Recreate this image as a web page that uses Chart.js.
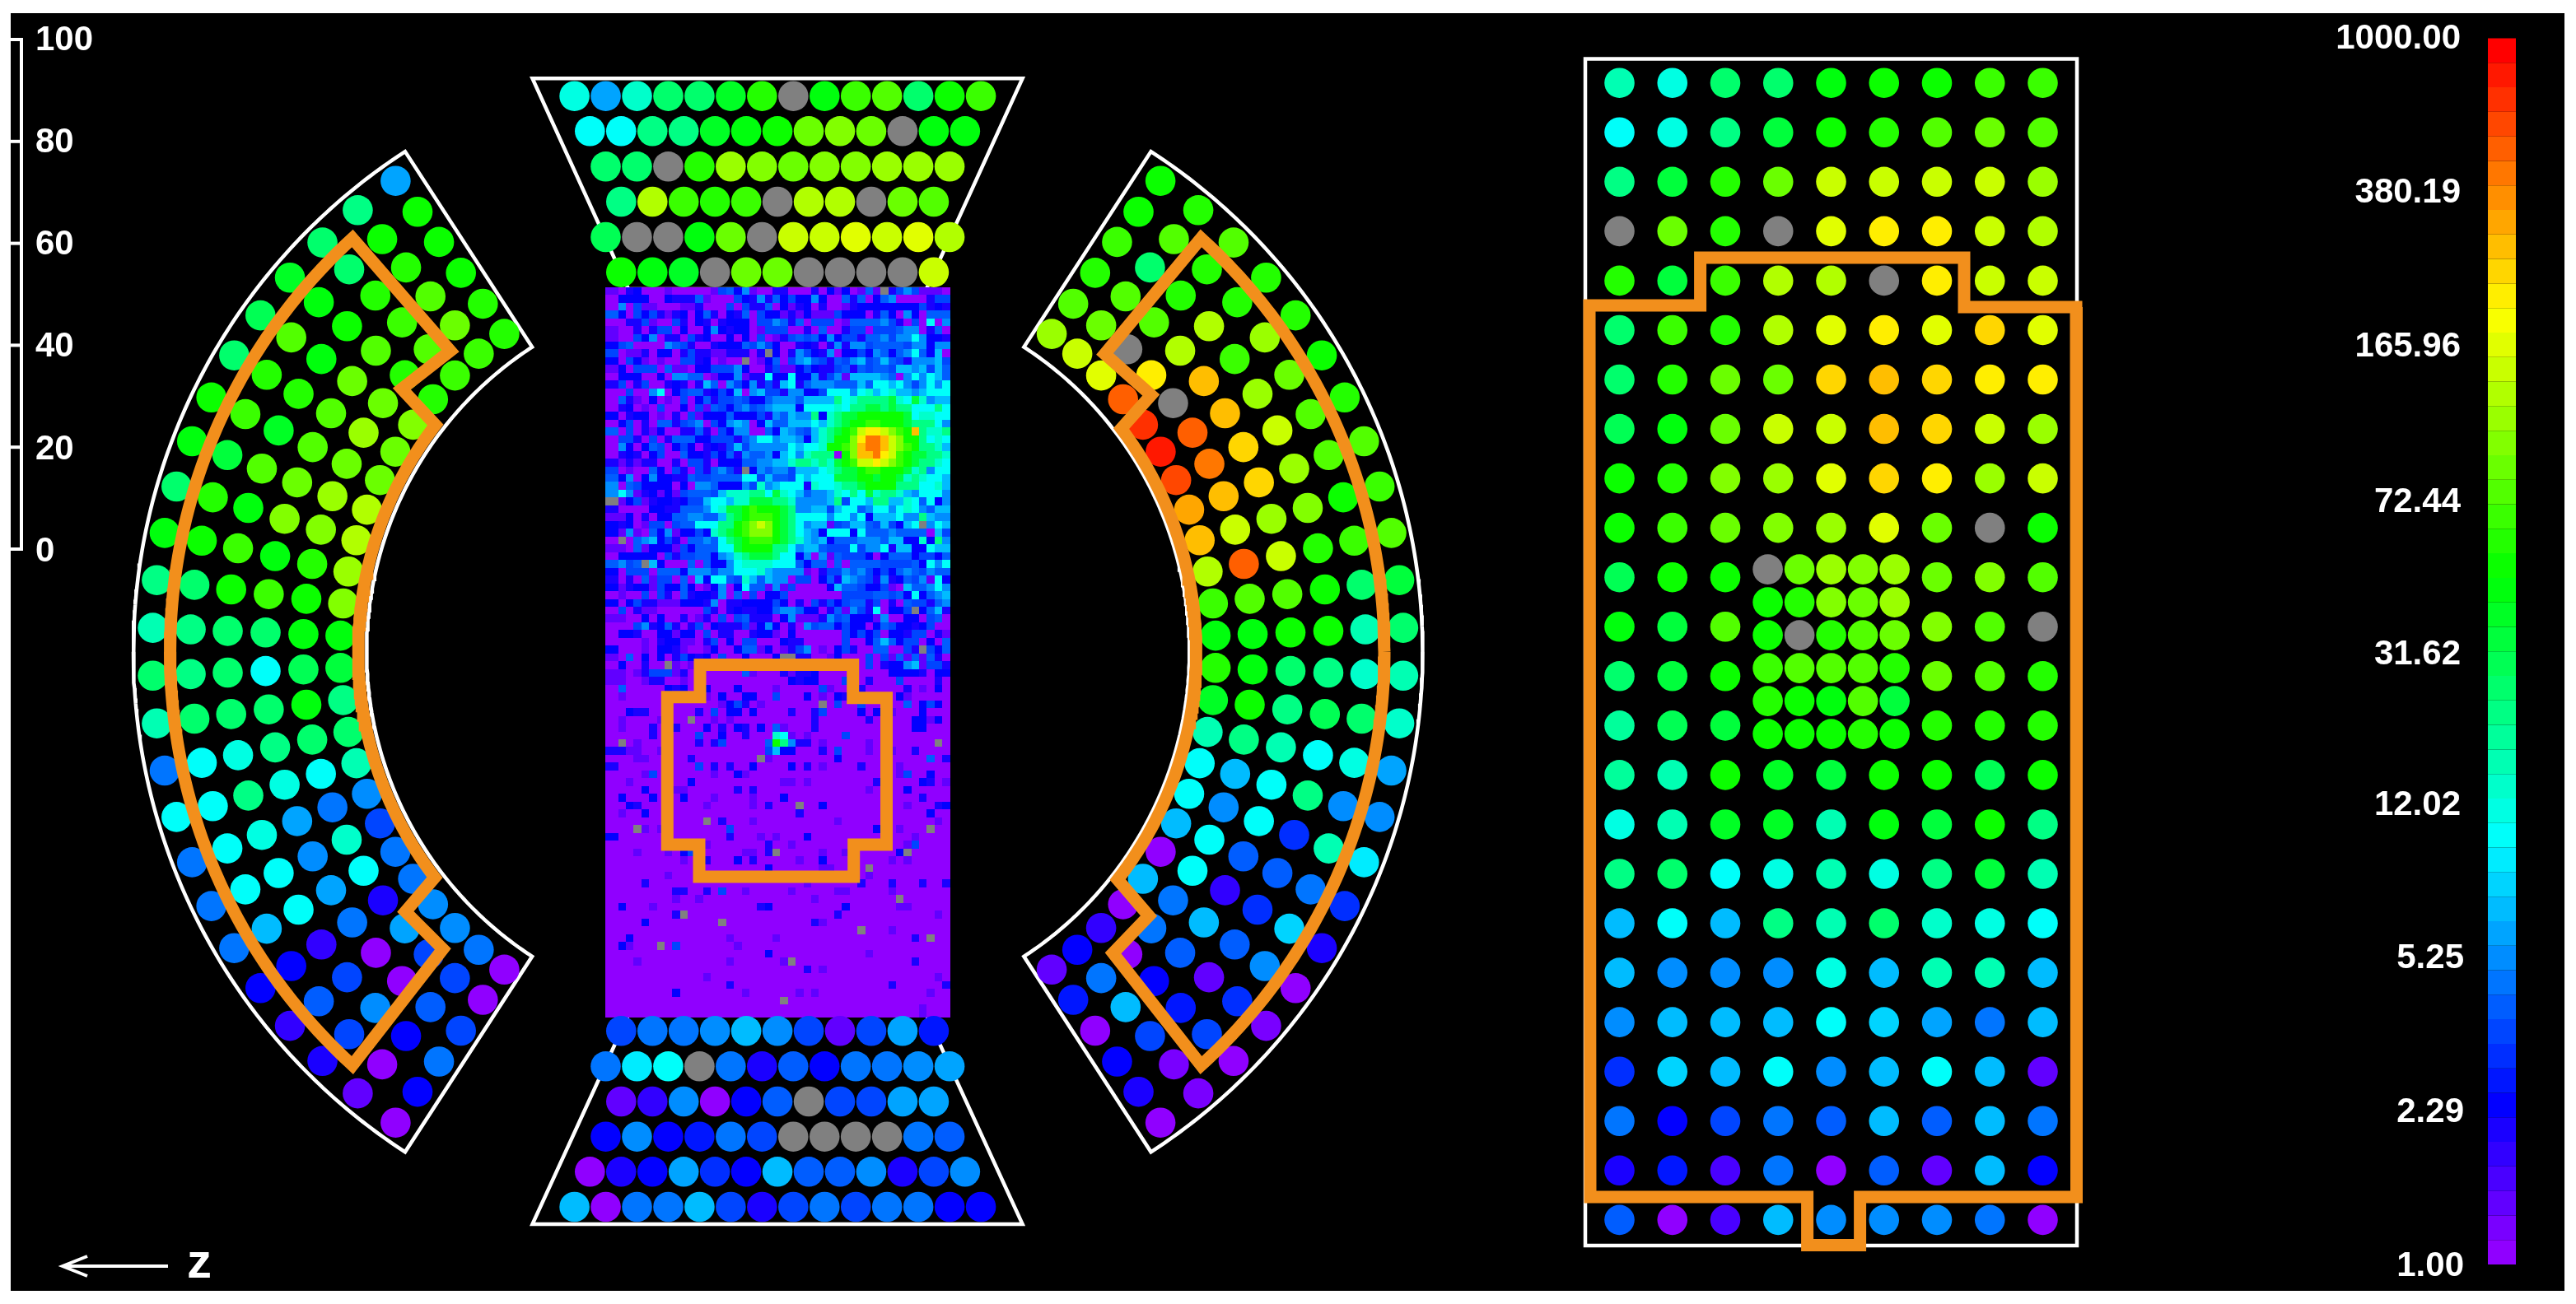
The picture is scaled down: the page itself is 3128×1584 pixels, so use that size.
<!DOCTYPE html>
<html>
<head>
<meta charset="utf-8">
<title>Detector hit map</title>
<script src="https://cdn.jsdelivr.net/npm/chart.js@4"></script>
<style>
    html, body { margin: 0; padding: 0; background: #fff; }
    canvas { display: block; }
</style>
</head>
<body>
<canvas id="hitMap" width="3128" height="1584"></canvas>
<script>
const rulerTicks = [0, 20, 40, 60, 80, 100];
const keyLabels = ['1.00', '2.29', '5.25', '12.02', '31.62', '72.44', '165.96', '380.19', '1000.00'];

// top trapezoid, rows top to bottom
const topCapValues = [
    [13, 6.4, 15, 27, 27, 38, 58, null, 42, 70, 78, 27, 48, 68],
    [10.7, 11.5, 22, 22, 38, 46, 48, 85, 100, 85, null, 46, 46],
    [25, 25, null, 60, 110, 100, 95, 100, 105, 110, 110, 115],
    [21, 135, 68, 60, 65, null, 135, 135, null, 95, 78],
    [30, null, null, 42, 85, null, 155, 165, 185, 155, 185, 135],
    [50, 42, 38, null, 85, 95, null, null, null, null, 155]
];
// bottom trapezoid
const bottomCapValues = [
    [3.7, 4.8, 5.2, 5.6, 7.4, 5.6, 3.5, 1.4, 3.7, 6.4, 3],
    [5, 9.5, 12, null, 5.2, 2.2, 4.1, 2.4, 4.6, 4.8, 5.6, 6.4],
    [1.35, 1.75, 5.6, 1.05, 2.4, 4, null, 3.6, 3.9, 6.4, 6.8],
    [2.4, 5.6, 2.4, 2.8, 5.2, 3.9, null, null, null, null, 4.8, 4],
    [1.05, 2.1, 2.4, 6.4, 3.1, 2.5, 7.4, 4, 4.1, 5.6, 2, 3.7, 5.8],
    [7.4, 1.05, 4.8, 4.8, 7.4, 3.6, 2.1, 3.6, 4.8, 3.9, 4.8, 4.8, 2.4, 2.4]
];
// left barrel, spokes top to bottom, each spoke outer ring to inner ring
const leftBarrelValues = [
    [6.4, 48, 50, 50, 55, 60],
    [21, 50, 56, 75, 85, 70],
    [27, 25, 56, 70, 78, 72],
    [38, 42, 50, 80, 60, 56],
    [30, 78, 46, 88, 95, 102],
    [25, 60, 60, 82, 115, 95],
    [50, 68, 38, 75, 95, 95],
    [46, 33, 78, 92, 115, 130],
    [27, 60, 42, 102, 105, 130],
    [42, 50, 68, 46, 62, 110],
    [21, 27, 50, 70, 52, 100],
    [17, 22, 27, 27, 42, 44],
    [27, 22, 27, 10.7, 30, 33],
    [18, 27, 27, 25, 42, 21],
    [5.2, 12, 13, 22, 27, 25],
    [12, 10.7, 22, 13, 12, 17],
    [5, 10.7, 13, 6.4, 5, 6],
    [5, 12, 12, 6, 15, 3.7],
    [4.6, 7.4, 12, 6.4, 10.7, 5.2],
    [2.4, 2.4, 1.75, 4.6, 2.1, 5],
    [1.75, 4, 3.6, 1.05, 6.4, 6],
    [2, 3.5, 5.6, 1.05, 3.7, 6],
    [1.5, 1.05, 2.4, 4.1, 3.5, 4.6],
    [1.05, 2.6, 4.6, 3.5, 1.05, 1.05]
];
// right barrel, same order
const rightBarrelValues = [
    [50, 50, 68, 55, 80, 110],
    [56, 75, 27, 78, 92, 155],
    [82, 60, 60, 82, null, 170],
    [62, 62, 135, 135, 220, 570],
    [62, 110, 68, 300, null, 690],
    [50, 92, 115, 300, 570, 870],
    [62, 82, 155, 260, 500, 650],
    [78, 78, 115, 260, 300, 360],
    [70, 50, 100, 115, 155, 300],
    [82, 70, 60, 155, 570, 135],
    [33, 27, 52, 75, 80, 68],
    [25, 17, 50, 50, 42, 46],
    [17, 15, 22, 27, 42, 60],
    [15, 27, 30, 22, 50, 38],
    [6.4, 13, 12, 18, 22, 18],
    [5.8, 6, 22, 10.7, 7.4, 10.7],
    [9.5, 17, 3.3, 10.7, 6, 12],
    [3.2, 4.6, 4, 4, 10.7, 7.4],
    [2, 8.5, 3.2, 1.75, 12, 1.05],
    [1.05, 5.6, 4, 7.4, 5, 7],
    [1.3, 3.2, 1.5, 4, 5, 1.05],
    [1.05, 3.6, 3, 2.4, 1.05, 1.75],
    [1.3, 1.3, 3.9, 7.4, 5.2, 2.4],
    [1.05, 2, 2.6, 1.05, 2.8, 1.4]
];
// right hand grid, 24 rows of 9; the fine block replaces columns 3-5 in rows 10-13
const sideGridValues = [
    [18, 13, 27, 27, 44, 52, 52, 68, 70],
    [12, 13, 22, 36, 52, 62, 78, 92, 80],
    [21, 36, 58, 85, 150, 165, 150, 150, 110],
    [null, 92, 62, null, 180, 220, 220, 155, 135],
    [62, 33, 70, 135, 135, null, 250, 155, 155],
    [27, 68, 62, 135, 180, 220, 185, 260, 185],
    [25, 58, 95, 85, 270, 300, 270, 230, 230],
    [28, 46, 85, 150, 150, 300, 270, 150, 110],
    [48, 62, 100, 110, 170, 260, 220, 120, 150],
    [50, 70, 85, 100, 120, 170, 85, null, 48],
    [30, 48, 52, null, null, null, 95, 100, 80],
    [42, 36, 78, null, null, null, 100, 75, null],
    [26, 33, 50, null, null, null, 88, 82, 60],
    [20, 29, 34, null, null, null, 55, 55, 55],
    [20, 18, 50, 38, 34, 50, 50, 30, 48],
    [13, 18, 38, 38, 18, 42, 34, 50, 21],
    [21, 27, 10.7, 13, 18, 13, 22, 33, 17],
    [7.4, 12, 7.4, 22, 17, 25, 14, 13, 12],
    [7.4, 5.6, 5.4, 6, 13, 7.4, 17, 17, 7.4],
    [5.4, 7.4, 7.4, 7.4, 10.7, 9, 6.4, 5, 7.4],
    [3.2, 8.5, 7.4, 11.5, 5.3, 7.4, 11.5, 7.4, 1.4],
    [4.6, 2.4, 3.5, 5.2, 4, 7.4, 4.4, 7.4, 4.6],
    [2, 2.8, 1.7, 5, 1.05, 4, 1.5, 7.4, 2.4],
    [4, 1.05, 1.6, 7.4, 6, 5.6, 5.6, 5, 1.05]
];
const fineBlockValues = [
    [null, 95, 120, 100, 110],
    [50, 58, 100, 92, 120],
    [50, null, 62, 78, 85],
    [70, 82, 74, 74, 62],
    [62, 48, 42, 82, 33],
    [52, 52, 52, 60, 48]
];

// central pixel map: one char per cell, looked up in heatCodes, x = dead pixel
const heatCodes = {
    '0': 1.05, '1': 1.4, '2': 2, '3': 2.4, '4': 3.5, '5': 4.4, '6': 5.6, '7': 7.4, '8': 10.7, '9': 15.8,
    'a': 22, 'b': 33, 'c': 48, 'd': 71, 'e': 102, 'f': 150, 'g': 220, 'h': 320, 'i': 470, 'x': null
};
const heatRows = [
    '10230001000001453610022000203130151x24641110',
    '03333003222510004326253433630052503560000244',
    '06041100011200040422503123020012333333334232',
    '53043421230352032504331213111433302530630555',
    '00224100420320233304465250444015555642040806',
    '10020244030036323301444002050024404445660250',
    '10043602204230030304012454536344255646686332',
    '34500006542002333546430023202626645555466366',
    '40112033024221122202x30264326033436535685370',
    '30431010044230100x01350467542546745754266674',
    '13044405110334446300241134322452545547767475',
    '03330030665501336122833833624617777650686875',
    '24024002320275064362427825666555758878646868',
    '00400680345523437067442663348886897897767888',
    '05210301040352445433566657777a89aaaab98b9677',
    '0230104003041543564567773888898aabbabaa888a8',
    '30233010204133353334265766a39abbccccccb89988',
    '03402055245604367603755777879abccddcccbaaa86',
    '5040213002252043660053765479abcdfggfedcha99a',
    '0442040255533444256886776379accegiihfecca898',
    '0630354034302324746666687889ccdehiihfedcaa97',
    '02320340053324352655637869aaa0cehhigfdcbbaa9',
    '212122002044203335566779aa9a9bcdffgfedcbaa98',
    '40100530420425642x36566477789abbcddcccb9a688',
    '53603633225445555884755487888bbbccbccb9a9887',
    '605433330306653336496788829889aabccccaaa8897',
    '686123131455547999aa8b987566798a8b9aa9768886',
    'x13412332344788799bbbaa966667a4887aa77985836',
    '200003322555689bbcdcccba66774788568868986577',
    '113020335566557abcdddcba8888688683777866a766',
    '32301440455888aacdefecba8677145775474378x687',
    '31610536133439abcdeeecba87638883855565555074',
    '0x0567342055658abcdddcba976735556665773393a6',
    '1105133314355588bccccaa867754448466827733877',
    '03333304244553679abbba8836061544430355534435',
    '5645x730005053368999988853550505555444453868',
    '30444055536664668889766661024465643435654655',
    '20205144050738854975766044035276542623546183',
    '31233143353013603855161400003755433410755686',
    '01004042052332605040334000000044445545383567',
    '30342211133326022333343020424345524020544256',
    '040211000000420232233566533025164280334x3572',
    '11003030020120404522203611126453331600330450',
    '00046235202403222413630206455343303543323400',
    '03320033133040220023310300000043434033244021',
    '00001023311024030440003220000040035753440305',
    '3000103321001300355130124601034200550042x435',
    '1050303024323040030003xx22001300040415151520',
    '0300200x101000000000000000000000040233671442',
    '11012444120000000510002122300000000033332033',
    '11001220010000000000000323300043020004000020',
    '05000003230030003000010000041000200000201030',
    '01000000000010300330040003010320000003100000',
    '000000000000001342010000000x0400400000503430',
    '00322000000204033030000200240000303010003000',
    '0100001000x001010000000000200000020000033130',
    '01000200200030203203051000200000000000033000',
    '00000200000400300200098101000040000000000000',
    '0x0100000002024000005ca6220100000100000000x0',
    '22110010000000000000473300020400010010020000',
    '0001100100200000000x100000000300000000000502',
    '20000000000402020030000302010000200001000000',
    '00001400000001003100000000000000000001400300',
    '00100000003000000000001101000000002200003201',
    '00003000110000002020000000000000010000300000',
    '03000300030001000010003000000000000000002000',
    '003200000000100000102000x0030000000000100023',
    '01003000000000000000000020000000000000000300',
    '000000000000x0200010000000000100000x00000010',
    '000x1010000000040000000000000000003001000x00',
    '30000000000000020001010003000000000000010000',
    '00000000000010000000200100000000000000140000',
    '000100010340000001102x0000010010000003x00000',
    '00000000010020003020000010030000000010100000',
    '000000000000000000003000000110000x0000000000',
    '00000001000000000000000000000000010000000000',
    '00002000000000000000000001000000200020002002',
    '00000000220020400100000100000110000010000000',
    '0000000010010000000000000010000000000x000000',
    '03000100000000000002300000000030000001100000',
    '000000002x0000000000000000000200000000000010',
    '00003000000000x00000000000210000000000000000',
    '00000000000000000000000000000000x00010000000',
    '00300000000000010000010000000000000000020x00',
    '031000x0400000001000000000000000000000000000',
    '00000000000000000000300000000000010000000000',
    '00010000000000010000001x00000000000000020000',
    '00000000000000000000000002010000000000000000',
    '00000000000010000000000000000000000000000010',
    '00000000000000020000000000000000000020000002',
    '00000000300000000100000010100000000000000100',
    '0000000000000000000000x000000000000000000000',
    '00000000000000000000000000000000000000001000'
];

// --- layout, all in canvas pixels --------------------------------------------
const frame = { left: 13, top: 16, right: 3114, bottom: 1568 };
const capPitch = 37.96;
const topCapRows = [[116.7, 697.6], [159.3, 716.3], [202.3, 735.5], [245, 754.3], [288, 735.5], [330.7, 754.3]];
const bottomCapRows = [[1252.3, 754.3], [1295.3, 735.5], [1338, 754.3], [1380.7, 735.5], [1423.3, 716.3], [1466, 697.6]];
const barrelRings = [701.5, 655.5, 610.5, 564.5, 518.5, 473.5];
const spokeStep = 4.75;
const barrelY = 791.7;
const leftBarrelX = 886.5;
const rightBarrelX = 1003;
const barrelOuter = 724.5;
const barrelInner = 441.3;
const barrelEdge = 57;
const side = { x0: 1966.5, dx: 64.25, y0: 100.7, dy: 60.05 };
const fine = { x0: 2146.6, dx: 38.5, y0: 691.6, dy: 40 };
const heat = { left: 735, top: 349, firstCol: 16, cellW: 9.37, cellH: 9.47 };
const key = { x: 3038, width: 34, top: 46.5, bottom: 1536, bands: 50 };
const ruler = { x: 26, tickFrom: 13, y0: 667, y100: 48 };
const keyLabelY = [1535, 1348, 1161, 975, 792, 607, 418, 231, 44.6];
const keyLabelRight = [2992, 2992, 2992, 2988, 2988, 2988, 2988, 2988, 2988];
const rulerLabelY = [667, 543, 418, 294, 170, 46];

const dotRadius = 18.3;
const white = '#ffffff';
const orange = '#f28f1c';

// same bins as the colour key: log scale 1..1000 in 50 steps, purple to red
function valueColor(v) {
    if (v === null) return '#808080';
    const band = Math.min(key.bands - 1, Math.floor(Math.log10(v) / 3 * key.bands));
    return `hsl(${274 * (1 - band / (key.bands - 1))}, 100%, 50%)`;
}

function buildDots() {
    const dots = [];
    topCapRows.forEach((row, r) => topCapValues[r].forEach((v, i) => dots.push({ x: row[1] + i * capPitch, y: row[0], v })));
    bottomCapRows.forEach((row, r) => bottomCapValues[r].forEach((v, i) => dots.push({ x: row[1] + i * capPitch, y: row[0], v })));

    [[leftBarrelValues, leftBarrelX, -1], [rightBarrelValues, rightBarrelX, 1]].forEach(([rows, cx, dir]) => {
        rows.forEach((spoke, k) => {
            const a = (11.5 - k) * spokeStep * Math.PI / 180;
            spoke.forEach((v, j) => {
                dots.push({ x: cx + dir * barrelRings[j] * Math.cos(a), y: barrelY - barrelRings[j] * Math.sin(a), v });
            });
        });
    });

    sideGridValues.forEach((row, r) => row.forEach((v, c) => {
        if (r >= 10 && r <= 13 && c >= 3 && c <= 5) return;
        dots.push({ x: side.x0 + c * side.dx, y: side.y0 + r * side.dy, v });
    }));
    fineBlockValues.forEach((row, r) => row.forEach((v, c) => {
        dots.push({ x: fine.x0 + c * fine.dx, y: fine.y0 + r * fine.dy, v });
    }));
    return dots;
}

// cells are drawn as rect points; first column and last row are wider, so they get two points
function buildHeatCells() {
    const cells = [];
    heatRows.forEach((row, r) => {
        const isLast = r === heatRows.length - 1;
        const top = heat.top + r * heat.cellH;
        const ys = isLast ? [top + 5, top + 11] : [top + heat.cellH / 2];
        [...row.padEnd(44, '0').slice(0, 44)].forEach((ch, c) => {
            const v = heatCodes[ch];
            const xs = c === 0
                ? [heat.left + 5, heat.left + 11]
                : [heat.left + heat.firstCol + (c - 1) * heat.cellW + heat.cellW / 2];
            xs.forEach(x => ys.forEach(y => cells.push({ x: Math.round(x), y: Math.round(y), v })));
        });
    });
    return cells;
}

function polar(cx, dir, r, deg) {
    const a = deg * Math.PI / 180;
    return { x: cx + dir * r * Math.cos(a), y: barrelY - r * Math.sin(a) };
}

function arc(cx, dir, r, from, to) {
    const pts = [];
    const steps = Math.ceil(Math.abs(to - from) / 0.5);
    for (let i = 0; i <= steps; i++) pts.push(polar(cx, dir, r, from + (to - from) * i / steps));
    return pts;
}

function barrelFrame(cx, dir) {
    return arc(cx, dir, barrelOuter, 0, -barrelEdge)
        .concat(arc(cx, dir, barrelInner, -barrelEdge, barrelEdge))
        .concat(arc(cx, dir, barrelOuter, barrelEdge, 0));
}

const pt = (x, y) => ({ x, y });
const whitePaths = [
    barrelFrame(leftBarrelX, -1),
    barrelFrame(rightBarrelX, 1),
    [pt(944, 95.3), pt(1241.6, 95.3), pt(1125, 351), pt(763, 351), pt(646.5, 95.3), pt(944, 95.3)],
    [pt(944, 1487), pt(1241.6, 1487), pt(1125, 1233), pt(763, 1233), pt(646.5, 1487), pt(944, 1487)],
    [pt(2200, 71.5), pt(2522, 71.5), pt(2522, 1513), pt(1925, 1513), pt(1925, 71.5), pt(2200, 71.5)]
];

function orangeBarrel(cx, dir, rOut, rIn, c) {
    return arc(cx, dir, rOut, 0, -c.tip)
        .concat([polar(cx, dir, c.lowA[0], -c.lowA[1]), polar(cx, dir, c.lowB[0], -c.lowB[1])])
        .concat(arc(cx, dir, rIn, -c.lowC, c.upC))
        .concat([polar(cx, dir, c.upB[0], c.upB[1]), polar(cx, dir, c.upA[0], c.upA[1])])
        .concat(arc(cx, dir, rOut, c.tip, 0));
}

const orangePaths = [
    orangeBarrel(leftBarrelX, -1, 680, 451.5, { tip: 47.6, lowA: [502, 46], lowB: [505, 38.7], lowC: 37.4, upC: 37.6, upB: [510.8, 38.7], upA: [499, 47.1] }),
    orangeBarrel(rightBarrelX, 1, 678, 449.5, { tip: 47.8, lowA: [505.5, 46.4], lowB: [506.6, 39.3], lowC: 38, upC: 37.1, upB: [503, 38.3], upA: [495.4, 46.9] }),
    [pt(944, 807.5), pt(1035.7, 807.5), pt(1035.7, 847.7), pt(1076.5, 847.7), pt(1076.5, 1026), pt(1036.7, 1026), pt(1036.7, 1065), pt(849, 1065), pt(849, 1026), pt(810.3, 1026), pt(810.3, 846.7), pt(850, 846.7), pt(850, 807.5), pt(944, 807.5)],
    [pt(2200, 313), pt(2385, 313), pt(2385, 373), pt(2521, 373), pt(2521.5, 1454), pt(2258.6, 1454), pt(2258.6, 1512.4), pt(2194.6, 1512.4), pt(2194.6, 1454), pt(1931, 1454), pt(1930, 371), pt(2064.6, 371), pt(2064.6, 313), pt(2200, 313)]
];

function lineSet(data, color, width, order) {
    return {
        data, showLine: true, fill: false, borderColor: color, borderWidth: width, order,
        pointRadius: 0, tension: 0, borderJoinStyle: 'miter', borderCapStyle: 'butt'
    };
}

function buildDatasets() {
    const dots = buildDots();
    const cells = buildHeatCells();
    const sets = [];

    sets.push({
        data: cells, order: 3, pointStyle: 'rect', pointRadius: 7.072, borderWidth: 0, pointBorderWidth: 0,
        pointBackgroundColor: cells.map(c => valueColor(c.v))
    });
    sets.push({
        data: dots, order: 2, pointStyle: 'circle', pointRadius: dotRadius, pointBorderWidth: 0,
        pointBackgroundColor: dots.map(d => valueColor(d.v))
    });
    whitePaths.forEach(p => sets.push(lineSet(p, white, 4.5, 4)));
    orangePaths.forEach(p => sets.push(lineSet(p, orange, 15, 1)));

    // ruler
    const rulerY = v => ruler.y0 - v / 100 * (ruler.y0 - ruler.y100);
    sets.push(lineSet([pt(ruler.x, rulerY(0) + 2), pt(ruler.x, rulerY(100) - 2)], white, 4, 1));
    rulerTicks.forEach(t => sets.push(lineSet([pt(ruler.tickFrom, rulerY(t)), pt(ruler.x + 2, rulerY(t))], white, 4, 1)));

    // colour key, one line with a colour per segment
    const keyEdges = [];
    const keyColors = [];
    for (let b = 0; b <= key.bands; b++) {
        keyEdges.push(pt(key.x, key.bottom - b / key.bands * (key.bottom - key.top)));
        keyColors.push(`hsl(${274 * (1 - Math.min(b, key.bands - 1) / (key.bands - 1))}, 100%, 50%)`);
    }
    const keySet = lineSet(keyEdges, keyColors[0], key.width, 1);
    keySet.segment = { borderColor: ctx => keyColors[ctx.p0DataIndex] };
    sets.push(keySet);

    // z arrow
    sets.push(lineSet([pt(204, 1538), pt(78, 1538)], white, 4, 1));
    sets.push(lineSet([pt(106, 1526), pt(76, 1538), pt(106, 1550)], white, 4, 1));
    return sets;
}

const blackBackground = {
    id: 'blackBackground',
    beforeDraw(chart) {
        const { ctx, scales: { x, y } } = chart;
        ctx.save();
        ctx.fillStyle = '#000';
        ctx.fillRect(x.getPixelForValue(frame.left), y.getPixelForValue(frame.top),
            frame.right - frame.left, frame.bottom - frame.top);
        ctx.restore();
    }
};

const labels = {
    id: 'labels',
    afterDraw(chart) {
        const { ctx, scales: { x, y } } = chart;
        ctx.save();
        ctx.fillStyle = white;
        ctx.textBaseline = 'alphabetic';
        ctx.font = 'bold 42px "Liberation Sans"';
        ctx.textAlign = 'right';
        keyLabels.forEach((t, i) => ctx.fillText(t, x.getPixelForValue(keyLabelRight[i]), y.getPixelForValue(keyLabelY[i] + 14.5)));
        ctx.textAlign = 'left';
        rulerTicks.forEach((t, i) => ctx.fillText(String(t), x.getPixelForValue(43), y.getPixelForValue(rulerLabelY[i] + 14.5)));
        ctx.font = 'bold 60px "Liberation Sans"';
        ctx.fillText('z', x.getPixelForValue(227), y.getPixelForValue(1552));
        ctx.restore();
    }
};

new Chart(document.getElementById('hitMap').getContext('2d'), {
    type: 'scatter',
    data: { datasets: buildDatasets() },
    plugins: [blackBackground, labels],
    options: {
        responsive: false,
        animation: false,
        devicePixelRatio: 1,
        events: [],
        layout: { padding: 0, autoPadding: false },
        scales: {
            x: { type: 'linear', display: false, min: 0, max: 3128 },
            y: { type: 'linear', display: false, min: 0, max: 1584, reverse: true }
        },
        plugins: { legend: { display: false }, tooltip: { enabled: false } }
    }
});
</script>
</body>
</html>
